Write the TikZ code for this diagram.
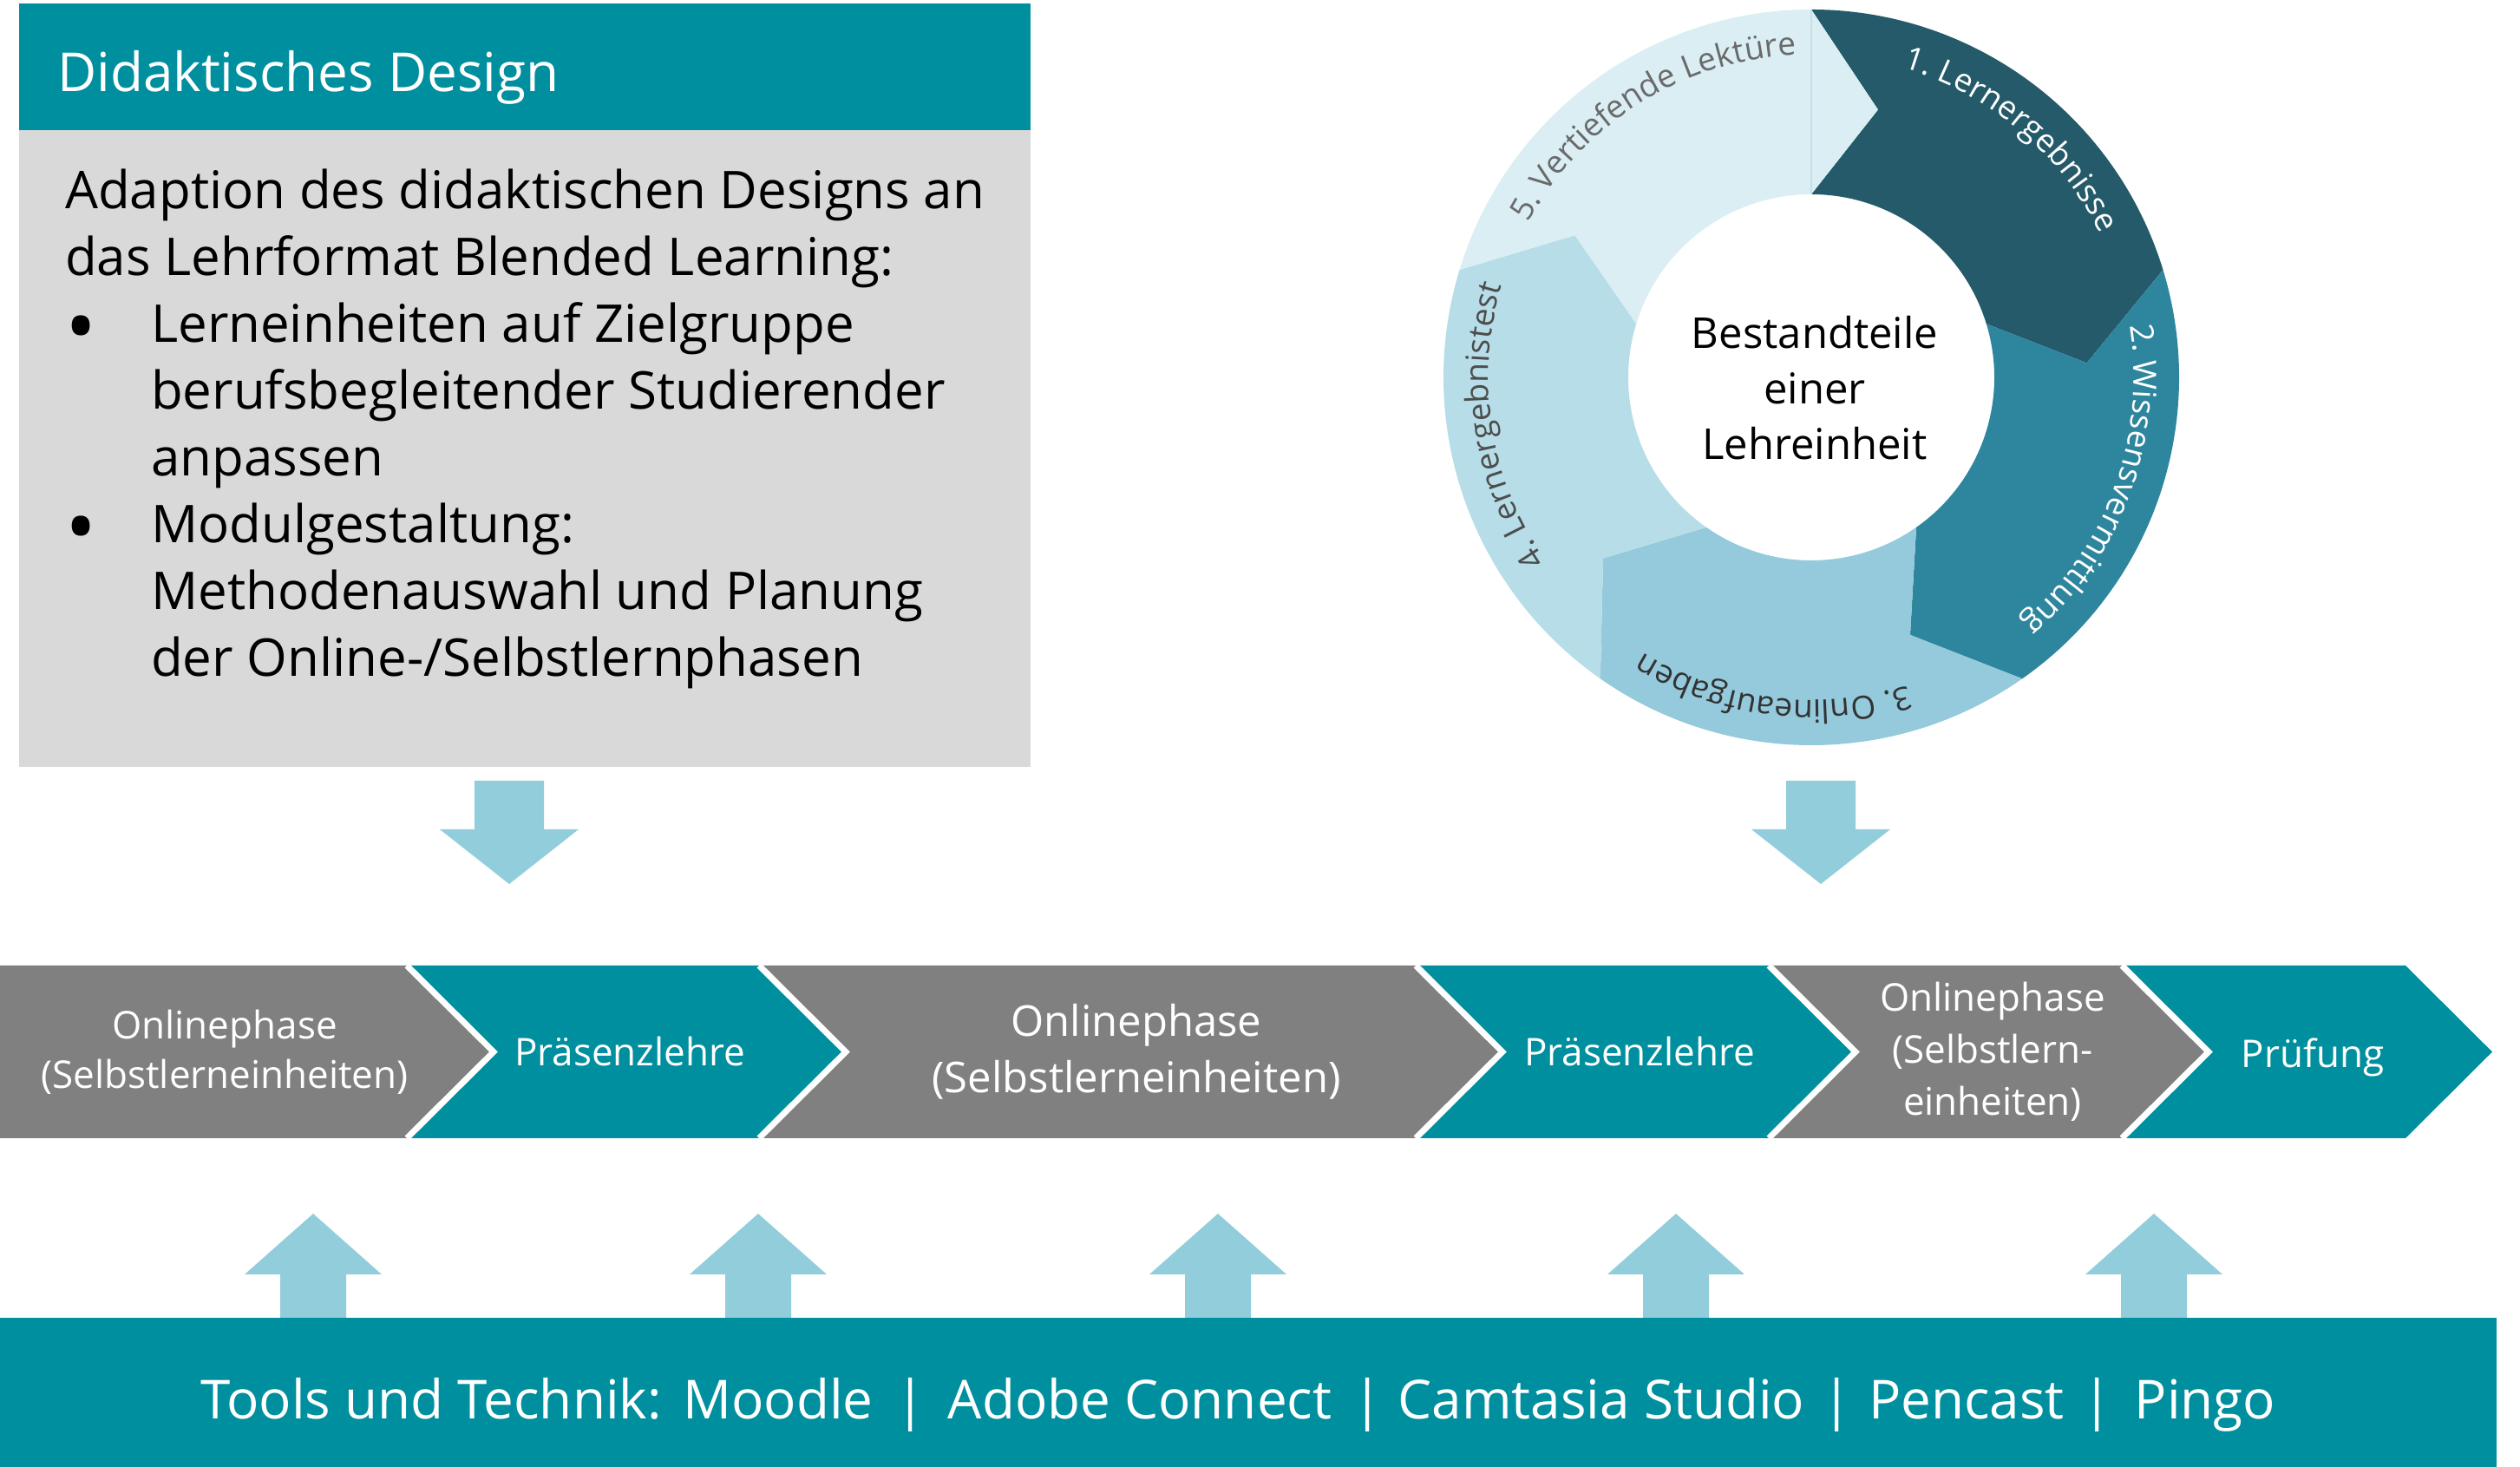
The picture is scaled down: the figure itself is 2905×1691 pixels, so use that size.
\documentclass[tikz,border=0pt]{standalone}
\usepackage{fontspec}
\setmainfont{Open Sans}
\usetikzlibrary{decorations.text}
\definecolor{tealc}{HTML}{008F9E}
\definecolor{chevgray}{HTML}{808080}
\definecolor{boxgray}{HTML}{D9D9D9}
\definecolor{arrowblue}{HTML}{92CDDC}
\definecolor{segA}{HTML}{245A69}
\definecolor{segB}{HTML}{2E869E}
\definecolor{segC}{HTML}{94CADB}
\definecolor{segD}{HTML}{B7DDE8}
\definecolor{segE}{HTML}{DAEEF3}
\definecolor{segline}{HTML}{C6E0E9}
\definecolor{lblC}{HTML}{333333}
\definecolor{lblD}{HTML}{4D4D4D}
\definecolor{lblE}{HTML}{6A6A6A}
\def\chtop{578}
\def\chbot{379}
\def\chmid{478.5}
\newcommand\ringseg[3]{%
  \fill[#3] ([shift={(#1:424)}]C) arc[start angle=#1, end angle=#2, radius=424]
    -- ([shift={(#2-14:318)}]C) -- ([shift={(#2:211)}]C)
    arc[start angle=#2, end angle=#1, radius=211]
    -- ([shift={(#1-14:318)}]C) -- cycle;}
\newcommand\ringlabel[3]{%
  \path[decorate, decoration={text along path, text align=center,
    text={|\fontsize{37}{40}\selectfont\color{#2}|#3}}]
    ([shift={(#1+60:372)}]C) arc[start angle=#1+60, end angle=#1-60, radius=372];}
\newcommand\chevshape[3]{%
  \fill[#3] (#1,\chtop) -- (#2,\chtop) -- (#2+100,\chmid) -- (#2,\chbot)
    -- (#1,\chbot) -- (#1+100,\chmid) -- cycle;}
\newcommand\chevsep[1]{%
  \draw[white, line width=7, line join=miter] (#1,\chtop) -- (#1+100,\chmid) -- (#1,\chbot);}
\newcommand\bigbullet{\makebox[99pt][l]{\raisebox{-16pt}{\fontsize{96}{77}\selectfont •}}}
\tikzset{
  chevtext/.style={text=white, align=center, inner sep=0, font=\fontsize{44}{57}\selectfont},
  tooltext/.style={text=white, anchor=base, inner sep=0, font=\fontsize{62}{70}\selectfont},
  uparr/.pic={\fill[arrowblue] (-38,0) -- (-38,50) -- (-79,50) -- (0,120) -- (79,50) -- (38,50) -- (38,0) -- cycle;},
  downarr/.pic={\fill[arrowblue] (-40,0) -- (-40,-56) -- (-80,-56) -- (0,-119) -- (80,-56) -- (40,-56) -- (40,0) -- cycle;}
}
\begin{document}
\begin{tikzpicture}[x=1pt,y=1pt]
\useasboundingbox (0,0) rectangle (2905,1691);

% left box
\fill[tealc] (22,1541) rectangle (1188,1687);
\fill[boxgray] (22,807) rectangle (1188,1541);
\node[anchor=base west, inner sep=0, text=white, font=\fontsize{62}{70}\selectfont] (title) at (66,1585) {Didaktisches Design};
\node[anchor=base west, align=left, inner sep=0, font=\fontsize{60}{77}\selectfont] (body) at (75,911)
 {Adaption des didaktischen Designs an\\
  das Lehrformat Blended Learning:\\
  \bigbullet Lerneinheiten auf Zielgruppe\\
  \hspace*{99pt}berufsbegleitender Studierender\\
  \hspace*{99pt}anpassen\\
  \bigbullet Modulgestaltung:\\
  \hspace*{99pt}Methodenauswahl und Planung\\
  \hspace*{99pt}der Online-/Selbstlernphasen};

% ring
\coordinate (C) at (2088,1256);
\ringseg{90}{17}{segA}
\ringseg{17}{-55}{segB}
\ringseg{-55}{-125}{segC}
\ringseg{-125}{-197}{segD}
\ringseg{163}{90}{segE}
\draw[segline, line width=2] ([shift={(90:211)}]C) -- ([shift={(90:424)}]C);
\ringlabel{50}{white}{1. Lernergebnisse}
\ringlabel{-20}{white}{2. Wissensvermittlung}
\ringlabel{-97}{lblC}{3. Onlineaufgaben}
\ringlabel{189}{lblD}{4. Lernergebnistest}
\ringlabel{122}{lblE}{5. Vertiefende Lektüre}
\node[align=center, inner sep=0, font=\fontsize{49}{64}\selectfont] (ctext) at (2092,1244) {Bestandteile\\einer\\Lehreinheit};

% down arrows
\pic at (587,791) {downarr};
\pic at (2099,791) {downarr};

% chevron row
\fill[chevgray] (0,\chtop) -- (469,\chtop) -- (569,\chmid) -- (469,\chbot) -- (0,\chbot) -- cycle;
\chevshape{469}{875}{tealc}
\chevshape{875}{1632}{chevgray}
\chevshape{1632}{2039}{tealc}
\chevshape{2039}{2446}{chevgray}
\chevshape{2446}{2773}{tealc}
\chevsep{469}
\chevsep{875}
\chevsep{1632}
\chevsep{2039}
\chevsep{2446}
\node[chevtext] (ch1) at (259,\chmid) {Onlinephase\\(Selbstlerneinheiten)};
\node[chevtext] (ch2) at (726,\chmid) {Präsenzlehre};
\node[chevtext, font=\fontsize{49}{65}\selectfont] (ch3) at (1310,\chmid) {Onlinephase\\(Selbstlerneinheiten)};
\node[chevtext] (ch4) at (1890,\chmid) {Präsenzlehre};
\node[chevtext, font=\fontsize{44}{60}\selectfont] (ch5) at (2297,\chmid) {Onlinephase\\(Selbstlern-\\einheiten)};
\node[chevtext] (ch6) at (2666,472) {Prüfung};

% up arrows
\pic at (361,172) {uparr};
\pic at (874,172) {uparr};
\pic at (1404,172) {uparr};
\pic at (1932,172) {uparr};
\pic at (2483,172) {uparr};

% bottom bar
\fill[tealc] (0,0) rectangle (2878,172);
\node[tooltext] (t0) at (497,55) {Tools und Technik:};
\node[tooltext] (t1) at (897,55) {Moodle};
\node[tooltext] (s1) at (1050,55) {|};
\node[tooltext] (t2) at (1314,55) {Adobe Connect};
\node[tooltext] (s2) at (1577,55) {|};
\node[tooltext] (t3) at (1846,55) {Camtasia Studio};
\node[tooltext] (s3) at (2118,55) {|};
\node[tooltext] (t4) at (2267,55) {Pencast};
\node[tooltext] (s4) at (2418,55) {|};
\node[tooltext] (t5) at (2542,55) {Pingo};
\end{tikzpicture}
\end{document}
